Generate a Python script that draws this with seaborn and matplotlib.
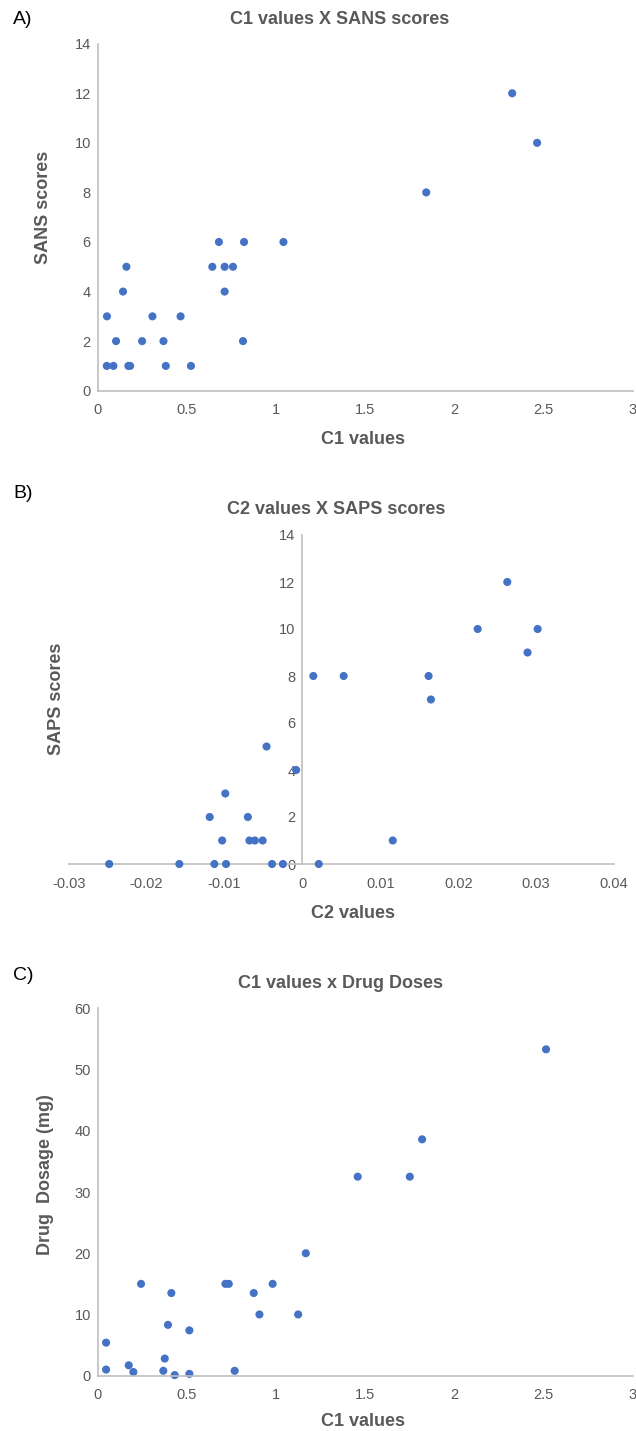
import matplotlib
matplotlib.use("Agg")
import matplotlib.pyplot as plt
import seaborn as sns
import pandas as pd

# Panel A: C1 values vs SANS scores
c1_a = [0.051, 0.088, 0.052, 0.103, 0.142, 0.161, 0.172, 0.182, 0.249, 0.307,
        0.369, 0.382, 0.465, 0.523, 0.643, 0.680, 0.712, 0.759, 0.712, 0.821,
        0.815, 1.042, 1.843, 2.325, 2.465]
sans = [1, 1, 3, 2, 4, 5, 1, 1, 2, 3,
        2, 1, 3, 1, 5, 6, 5, 5, 4, 6,
        2, 6, 8, 12, 10]

# Panel B: C2 values vs SAPS scores
c2_b = [-0.0248, -0.0158, -0.0113, -0.0098, -0.0039, -0.0025, -0.0119, -0.0099,
        -0.0103, -0.0070, -0.0068, -0.0061, -0.0051, -0.0046, -0.0008, 0.0014,
        0.0021, 0.0053, 0.0116, 0.0162, 0.0165, 0.0225, 0.0263, 0.0289, 0.0302]
saps = [0, 0, 0, 0, 0, 0, 2, 3,
        1, 2, 1, 1, 1, 5, 4, 8,
        0, 8, 1, 8, 7, 10, 12, 9, 10]

# Panel C: C1 values vs drug dosage
c1_c = [0.047, 0.047, 0.174, 0.200, 0.243, 0.368, 0.376, 0.394, 0.413, 0.432,
        0.514, 0.514, 0.716, 0.735, 0.768, 0.875, 0.907, 0.981, 1.124, 1.167,
        1.458, 1.750, 1.819, 2.514]
dose = [5.4, 1.0, 1.7, 0.6, 15.0, 0.8, 2.8, 8.3, 13.5, 0.1,
        7.4, 0.3, 15.0, 15.0, 0.8, 13.5, 10.0, 15.0, 10.0, 20.0,
        32.5, 32.5, 38.6, 53.3]

x_ticks_c1 = [0, 0.5, 1, 1.5, 2, 2.5, 3]
x_tick_labels_c1 = ["0", "0.5", "1", "1.5", "2", "2.5", "3"]
x_ticks_c2 = [-0.03, -0.02, -0.01, 0, 0.01, 0.02, 0.03, 0.04]
x_tick_labels_c2 = ["-0.03", "-0.02", "-0.01", "0", "0.01", "0.02", "0.03", "0.04"]
y_ticks_scores = [0, 2, 4, 6, 8, 10, 12, 14]
y_ticks_dose = [0, 10, 20, 30, 40, 50, 60]

sns.set_theme(style="white")
plt.rcParams["font.family"] = ["Liberation Sans", "DejaVu Sans"]

W, H = 636, 1431
fig = plt.figure(figsize=(W / 100, H / 100), dpi=100)

DOT = "#4472C4"
AXIS = "#BFBFBF"
TXT = "#595959"
TICK_FS = 10.5
TITLE_FS = 13
LABEL_FS = 13
PANEL_FS = 14


def px_axes(x0, x1, ytop, ybot):
    return fig.add_axes([x0 / W, 1 - ybot / H, (x1 - x0) / W, (ybot - ytop) / H])


def style(ax):
    for s in ["top", "right"]:
        ax.spines[s].set_visible(False)
    for s in ["left", "bottom"]:
        ax.spines[s].set_color(AXIS)
        ax.spines[s].set_linewidth(1.2)
    ax.tick_params(length=0, labelsize=TICK_FS, colors=TXT, pad=5)
    ax.tick_params(axis="x", pad=9)
    ax.set_xlabel("")
    ax.set_ylabel("")
    ax.grid(False)


def ftext(x, y, s, **kw):
    fig.text(x / W, 1 - y / H, s, **kw)


def title(x, y, s):
    ftext(x, y, s, fontsize=TITLE_FS, fontweight="bold", color=TXT, ha="center", va="center")


def xlab(x, y, s):
    ftext(x, y, s, fontsize=LABEL_FS, fontweight="bold", color=TXT, ha="center", va="center")


def ylab(x, y, s):
    ftext(x, y, s, fontsize=LABEL_FS, fontweight="bold", color=TXT, ha="center", va="center", rotation=90)


def panel(x, y, s):
    ftext(x, y, s, fontsize=PANEL_FS, color="black", ha="center", va="center")


# ---- A ----
axA = px_axes(97.7, 632.5, 43.7, 390.7)
sns.scatterplot(data=pd.DataFrame({"x": c1_a, "y": sans}), x="x", y="y", ax=axA,
                color=DOT, s=34, edgecolor="none")
axA.set_xlim(0, 3)
axA.set_ylim(0, 14)
axA.set_xticks(x_ticks_c1, x_tick_labels_c1)
axA.set_yticks(y_ticks_scores)
style(axA)
panel(23, 20, "A)")
title(340, 19, "C1 values X SANS scores")
xlab(363, 439, "C1 values")
ylab(44, 207, "SANS scores")

# ---- B ----
axB = px_axes(68.7, 614.0, 535.0, 864.0)
sns.scatterplot(data=pd.DataFrame({"x": c2_b, "y": saps}), x="x", y="y", ax=axB,
                color=DOT, s=34, edgecolor="none", zorder=3, clip_on=False)
axB.set_xlim(-0.03, 0.04)
axB.set_ylim(0, 14)
axB.set_xticks(x_ticks_c2, x_tick_labels_c2)
axB.set_yticks(y_ticks_scores)
style(axB)
axB.spines["left"].set_position(("data", 0))
axB.spines["bottom"].set_position(("data", 0))
panel(23, 493, "B)")
title(336.5, 510, "C2 values X SAPS scores")
xlab(353, 914, "C2 values")
ylab(57, 699, "SAPS scores")

# ---- C ----
axC = px_axes(97.7, 632.7, 1008.3, 1375.7)
sns.scatterplot(data=pd.DataFrame({"x": c1_c, "y": dose}), x="x", y="y", ax=axC,
                color=DOT, s=34, edgecolor="none", clip_on=False)
axC.set_xlim(0, 3)
axC.set_ylim(0, 60)
axC.set_xticks(x_ticks_c1, x_tick_labels_c1)
axC.set_yticks(y_ticks_dose)
style(axC)
panel(23, 975, "C)")
title(340, 984, "C1 values x Drug Doses")
xlab(363, 1421, "C1 values")
ylab(46, 1175, "Drug  Dosage (mg)")

fig.savefig("out.png", dpi=100, facecolor="white")
